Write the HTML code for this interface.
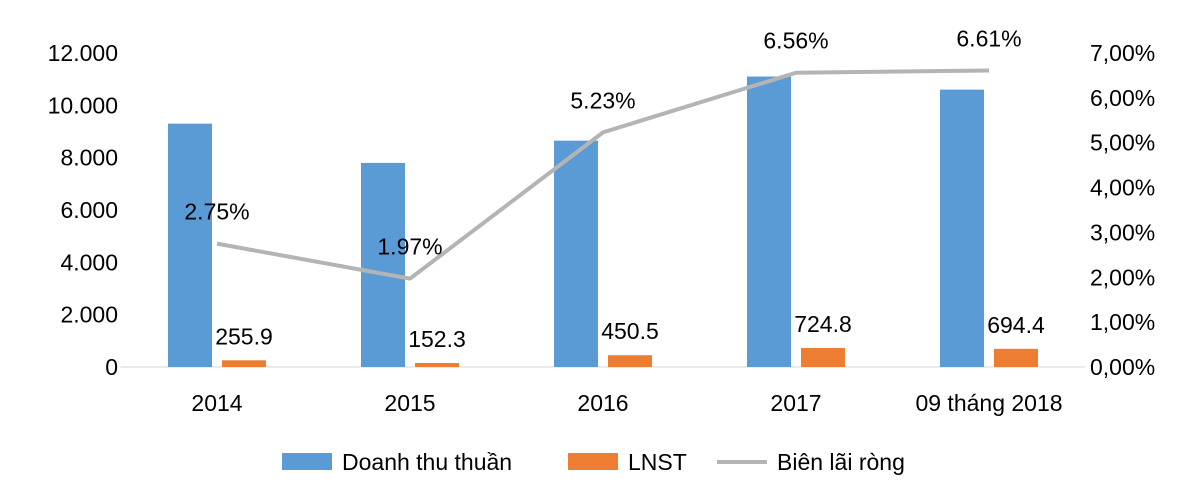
<!DOCTYPE html>
<html><head><meta charset="utf-8"><style>
body{margin:0;background:#fff;}
svg text{font-family:"Liberation Sans",sans-serif;}
</style></head><body>
<svg id="chart" width="1200" height="489"></svg>
<script>
const categories=["2014","2015","2016","2017","09 tháng 2018"];
const revenue=[9300,7800,8650,11100,10600];
const profit=[255.9,152.3,450.5,724.8,694.4];
const margin=[2.75,1.97,5.23,6.56,6.61];
const leftTicks=["0","2.000","4.000","6.000","8.000","10.000","12.000"];
const rightTicks=["0,00%","1,00%","2,00%","3,00%","4,00%","5,00%","6,00%","7,00%"];
const NS="http://www.w3.org/2000/svg";
const svg=document.getElementById('chart');
const y0=367,yTop=53,x0=120.5,step=193;
const yL=v=>y0-(v/12000)*(y0-yTop);
const yR=v=>y0-(v/7)*(y0-yTop);
const xC=i=>x0+step*(i+0.5);
function mk(t,a,txt){const e=document.createElementNS(NS,t);for(const k in a)e.setAttribute(k,a[k]);if(txt!==undefined)e.textContent=txt;svg.appendChild(e);return e;}
leftTicks.forEach((t,i)=>{
 const e=mk('text',{x:118,y:yL(i*2000)+8,'text-anchor':'end','font-size':23,fill:'#000'},t);
 
 
});
rightTicks.forEach((t,i)=>{
 const e=mk('text',{x:1090,y:yR(i)+8,'font-size':23,fill:'#000'},t);
 
 
});
const ax=mk('line',{x1:x0,x2:x0+step*5,y1:y0,y2:y0,stroke:'#d9d9d9','stroke-width':1});


categories.forEach((c,i)=>{
 const cx=xC(i);
 const b=mk('rect',{x:cx-49,y:yL(revenue[i]),width:44,height:y0-yL(revenue[i]),fill:'#5b9bd5'});
 
 
 const o=mk('rect',{x:cx+5,y:yL(profit[i]),width:44,height:y0-yL(profit[i]),fill:'#ed7d31'});
 
 
 const pl=mk('text',{x:cx+27,y:yL(profit[i])-16,'text-anchor':'middle','font-size':23,fill:'#000'},profit[i].toFixed(1));
 
 
 const xl=mk('text',{x:cx,y:411,'text-anchor':'middle','font-size':23,fill:'#000'},c);
 
 
});
const pts=margin.map((m,i)=>xC(i)+','+yR(m)).join(' ');
const ln=mk('polyline',{points:pts,fill:'none',stroke:'#b4b4b4','stroke-width':4,'stroke-linejoin':'round'});


margin.forEach((m,i)=>{
 const t=mk('text',{x:xC(i),y:yR(m)-24,'text-anchor':'middle','font-size':23,fill:'#000'},m.toFixed(2)+'%');
 
 
});
const lg=[['rect','#5b9bd5',282,'Doanh thu thuần'],['rect','#ed7d31',568,'LNST'],['line','#b4b4b4',717,'Biên lãi ròng']];
lg.forEach(l=>{
 let s;
 if(l[0]==='rect')s=mk('rect',{x:l[2],y:453,width:50,height:17,fill:l[1]});
 else s=mk('line',{x1:l[2],x2:l[2]+50,y1:462,y2:462,stroke:l[1],'stroke-width':4});
 
 
 const t=mk('text',{x:l[2]+60,y:470,'font-size':23,fill:'#000'},l[3]);
 
 
});
</script>
</body></html>
